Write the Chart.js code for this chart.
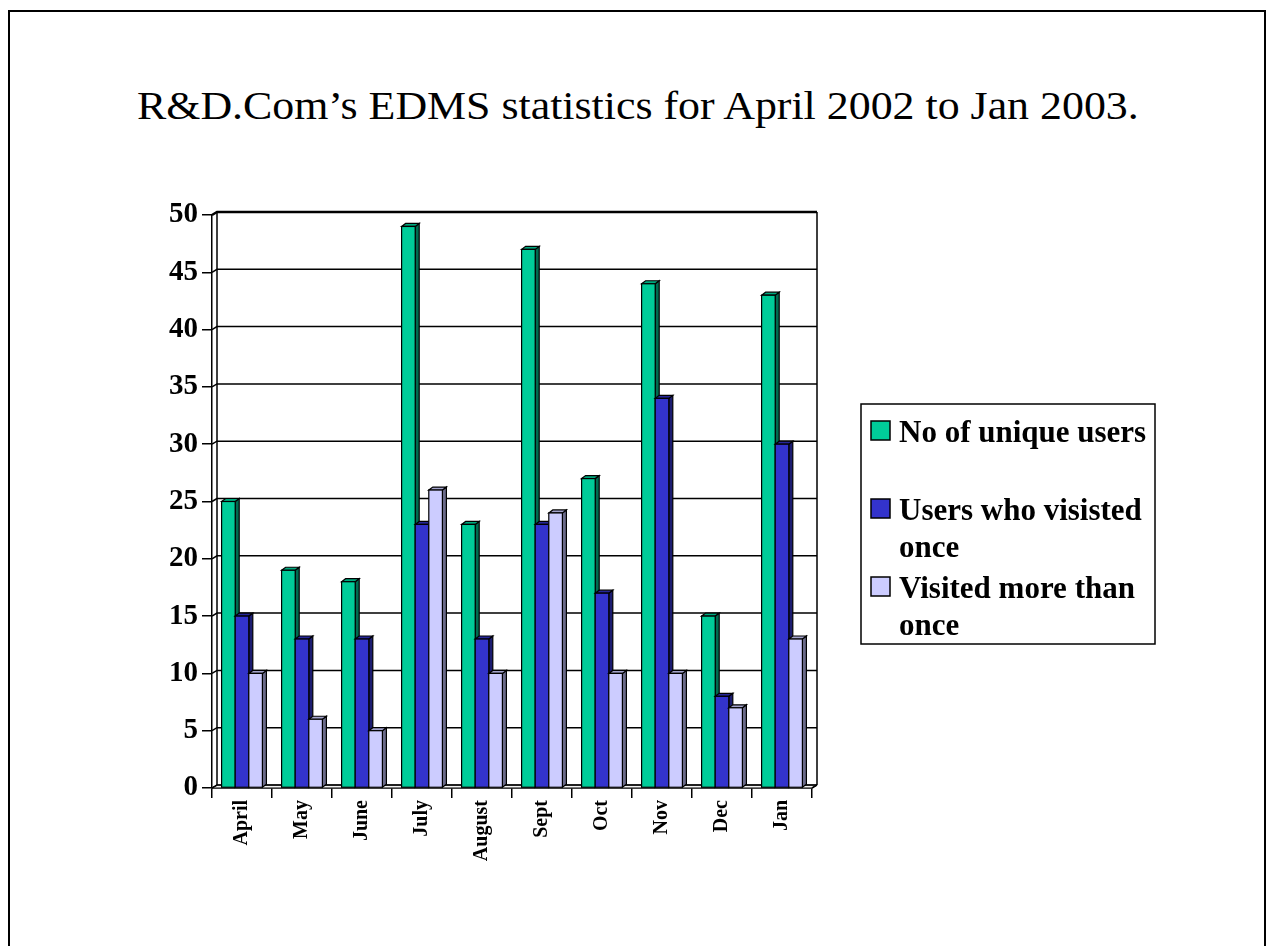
<!DOCTYPE html>
<html>
<head>
<meta charset="utf-8">
<script src="https://cdn.jsdelivr.net/npm/chart.js@4.4.0/dist/chart.umd.min.js"></script>
<style>
  html, body { margin: 0; padding: 0; background: #fff; width: 1268px; height: 946px; overflow: hidden; }
  #frame { position: absolute; left: 8px; top: 10px; width: 1258px; height: 980px; border: 2px solid #000; border-bottom: none; box-sizing: border-box; }
  #title { position: absolute; left: 137px; top: 85px; font-family: 'Liberation Serif', 'Times New Roman', serif; font-size: 41px; line-height: 1; white-space: nowrap; color: #000; transform: scaleX(1.07); transform-origin: 0 0; }
  #wrap { position: absolute; left: 0; top: 0; width: 1268px; height: 946px; }
</style>
</head>
<body>
<div id="frame"></div>
<div id="title">R&amp;D.Com’s EDMS statistics for April 2002 to Jan 2003.</div>
<div id="wrap"><canvas id="c" width="1268" height="946"></canvas></div>
<script>
// Monthly EDMS usage figures
const months = ['April', 'May', 'June', 'July', 'August', 'Sept', 'Oct', 'Nov', 'Dec', 'Jan'];
const uniqueUsers = [25, 19, 18, 49, 23, 47, 27, 44, 15, 43];
const visitedOnce = [15, 13, 13, 23, 13, 23, 17, 34, 8, 30];
const visitedMoreThanOnce = [10, 6, 5, 26, 10, 24, 10, 10, 7, 13];
const seriesNames = ['No of unique users', 'Users who visisted once', 'Visited more than once'];
const yMin = 0, yMax = 50, yStep = 5;

// Face colours: front, side, top
const palette = [
  { front: '#00CC99', side: '#006B50', top: '#00A87E' },
  { front: '#3333CC', side: '#1C1C70', top: '#262699' },
  { front: '#CCCCFF', side: '#6B6B8A', top: '#A3A3CC' }
];

const SERIF = "'Liberation Serif', 'Times New Roman', serif";
const BAR_DX = 4, BAR_DY = -3;   // bar depth
const WALL_DX = 5, WALL_DY = -3; // back wall offset

// Back wall, gridlines and floor drawn behind the bars
const wallPlugin = {
  id: 'wall',
  beforeDatasetsDraw(chart) {
    const { ctx, chartArea: a, scales: { y } } = chart;
    ctx.save();
    ctx.strokeStyle = '#000';
    // floor
    ctx.fillStyle = '#f2f2f2';
    ctx.lineWidth = 1;
    ctx.beginPath();
    ctx.moveTo(a.left, a.bottom);
    ctx.lineTo(a.left + WALL_DX, a.bottom + WALL_DY);
    ctx.lineTo(a.right + WALL_DX, a.bottom + WALL_DY);
    ctx.lineTo(a.right, a.bottom);
    ctx.closePath();
    ctx.fill();
    ctx.stroke();
    // gridlines on the back wall
    for (let v = yMin; v <= yMax; v += yStep) {
      const py = y.getPixelForValue(v);
      ctx.lineWidth = v === yMax ? 2.5 : 1.5;
      ctx.beginPath();
      ctx.moveTo(a.left, py);
      ctx.lineTo(a.left + WALL_DX, py + WALL_DY);
      ctx.lineTo(a.right + WALL_DX, py + WALL_DY);
      ctx.stroke();
    }
    // wall edges
    ctx.lineWidth = 1.5;
    ctx.beginPath();
    ctx.moveTo(a.left + WALL_DX, a.bottom + WALL_DY);
    ctx.lineTo(a.left + WALL_DX, a.top + WALL_DY);
    ctx.moveTo(a.right + WALL_DX, a.bottom + WALL_DY);
    ctx.lineTo(a.right + WALL_DX, a.top + WALL_DY);
    ctx.moveTo(a.right, a.bottom);
    ctx.lineTo(a.right + WALL_DX, a.bottom + WALL_DY);
    ctx.stroke();
    ctx.restore();
  },
  // Repaint the bars category by category with side and top faces
  afterDatasetsDraw(chart) {
    const { ctx } = chart;
    const metas = chart.data.datasets.map((_, i) => chart.getDatasetMeta(i));
    ctx.save();
    ctx.strokeStyle = '#000';
    ctx.lineWidth = 1.2;
    ctx.lineJoin = 'miter';
    for (let i = 0; i < chart.data.labels.length; i++) {
      metas.forEach((meta, d) => {
        const bar = meta.data[i];
        if (!bar) return;
        const { x, y, base, width } = bar.getProps(['x', 'y', 'base', 'width'], true);
        const l = x - width / 2, r = x + width / 2;
        const c = palette[d];
        // side
        ctx.fillStyle = c.side;
        ctx.beginPath();
        ctx.moveTo(r, y);
        ctx.lineTo(r + BAR_DX, y + BAR_DY);
        ctx.lineTo(r + BAR_DX, base + BAR_DY);
        ctx.lineTo(r, base);
        ctx.closePath();
        ctx.fill();
        ctx.stroke();
        // top
        ctx.fillStyle = c.top;
        ctx.beginPath();
        ctx.moveTo(l, y);
        ctx.lineTo(l + BAR_DX, y + BAR_DY);
        ctx.lineTo(r + BAR_DX, y + BAR_DY);
        ctx.lineTo(r, y);
        ctx.closePath();
        ctx.fill();
        ctx.stroke();
        // front
        ctx.fillStyle = c.front;
        ctx.fillRect(l, y, width, base - y);
        ctx.strokeRect(l, y, width, base - y);
      });
    }
    ctx.restore();
  }
};

// Boxed legend with wrapped labels
const legendPlugin = {
  id: 'boxLegend',
  afterDraw(chart) {
    const { ctx } = chart;
    const box = { x: 861, y: 404, w: 294, h: 240 };
    const textX = 899, maxW = 252, firstBase = 442, slot = 78, lineH = 37;
    ctx.save();
    ctx.strokeStyle = '#000';
    ctx.lineWidth = 1.5;
    ctx.strokeRect(box.x, box.y, box.w, box.h);
    ctx.font = `bold 31px ${SERIF}`;
    ctx.fillStyle = '#000';
    ctx.textBaseline = 'alphabetic';
    chart.data.datasets.forEach((ds, d) => {
      const base = firstBase + d * slot;
      ctx.fillStyle = ds.backgroundColor;
      ctx.fillRect(871, base - 21, 19, 19);
      ctx.lineWidth = 1.5;
      ctx.strokeRect(871, base - 21, 19, 19);
      ctx.fillStyle = '#000';
      const words = ds.label.split(' ');
      const lines = [];
      let cur = '';
      words.forEach(w => {
        const t = cur ? cur + ' ' + w : w;
        if (ctx.measureText(t).width > maxW && cur) { lines.push(cur); cur = w; }
        else cur = t;
      });
      if (cur) lines.push(cur);
      lines.forEach((ln, k) => ctx.fillText(ln, textX, base + k * lineH));
    });
    ctx.restore();
  }
};

const seriesValues = [uniqueUsers, visitedOnce, visitedMoreThanOnce];

new Chart(document.getElementById('c'), {
  type: 'bar',
  data: {
    labels: months,
    datasets: seriesValues.map((vals, d) => ({
      label: seriesNames[d],
      data: vals,
      backgroundColor: palette[d].front,
      borderColor: '#000',
      borderWidth: 1,
      categoryPercentage: 0.68,
      barPercentage: 1.0
    }))
  },
  options: {
    responsive: false,
    animation: false,
    devicePixelRatio: 1,
    layout: { padding: { top: 215, right: 456, bottom: 0, left: 0 } },
    plugins: { legend: { display: false }, tooltip: { enabled: false }, title: { display: false } },
    scales: {
      x: {
        grid: { display: true, drawOnChartArea: false, drawTicks: true, tickLength: 10, color: '#000', lineWidth: 1.5, offset: true },
        border: { display: true, color: '#000', width: 1.5 },
        ticks: { color: '#000', font: { family: SERIF, size: 20, weight: 'bold' }, minRotation: 90, maxRotation: 90, padding: 2, autoSkip: false },
        afterFit(scale) { scale.height = 158; }
      },
      y: {
        min: yMin, max: yMax,
        grid: { display: true, drawOnChartArea: false, drawTicks: true, tickLength: 10, color: '#000', lineWidth: 1.5 },
        border: { display: true, color: '#000', width: 1.5 },
        ticks: { stepSize: yStep, color: '#000', font: { family: SERIF, size: 29, weight: 'bold' }, padding: 4 },
        afterFit(scale) { scale.width = 212; }
      }
    }
  },
  plugins: [wallPlugin, legendPlugin]
});
</script>
</body>
</html>
